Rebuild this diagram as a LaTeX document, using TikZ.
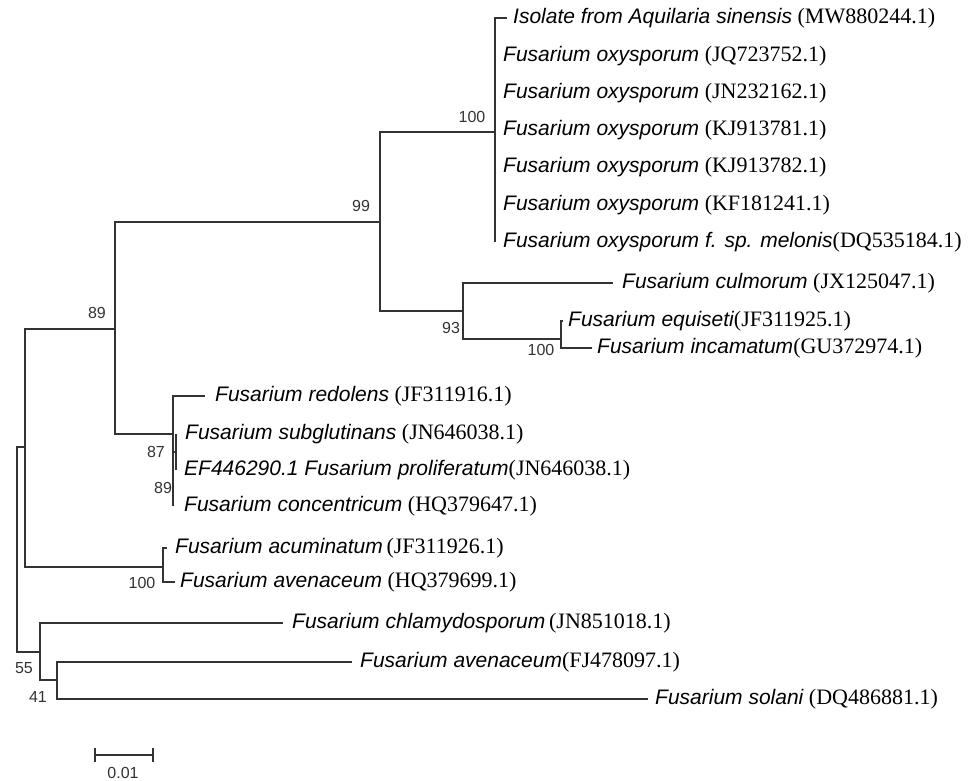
\documentclass[tikz,border=0pt]{standalone}
\usepackage{fontspec}
\setmainfont{Liberation Serif}
\setsansfont{Liberation Sans}
\usetikzlibrary{positioning}
\definecolor{branchgray}{HTML}{333333}
\newcommand{\taxon}[1]{{\fontsize{21}{26}\selectfont\sffamily\itshape #1}}

\begin{document}
\begin{tikzpicture}[x=1pt, y=-1pt,
    branch/.style={draw=branchgray, line width=1.3pt},
    taxonlabel/.style={anchor=west, inner sep=0pt, font=\fontsize{22}{26}\selectfont, text=black},
    boot/.style={inner sep=0pt, font=\sffamily\fontsize{16}{18}\selectfont, text=branchgray},
    node distance=7pt
]
\useasboundingbox (0,0) rectangle (979,780);

% internal nodes
\coordinate (root) at (17,550);
\coordinate (nA) at (25,447);
\coordinate (n89a) at (115,329);
\coordinate (n99) at (380,222);
\coordinate (n100a) at (495,132);
\coordinate (n93) at (463,311);
\coordinate (n100b) at (561,339);
\coordinate (n87) at (173,434);
\coordinate (n89b) at (176,452);
\coordinate (n100c) at (163,567);
\coordinate (n55) at (40,652);
\coordinate (n41) at (57,680);

% tips
\coordinate (tIso) at (507,18);
\coordinate (tJQ) at (495,56);
\coordinate (tJN) at (495,93);
\coordinate (tKJa) at (495,130);
\coordinate (tKJb) at (495,167);
\coordinate (tKF) at (495,205);
\coordinate (tMel) at (495,242);
\coordinate (tCul) at (613,283);
\coordinate (tEqu) at (563,321);
\coordinate (tInc) at (592,348);
\coordinate (tRed) at (205,396);
\coordinate (tSub) at (176,434);
\coordinate (tPro) at (176,470);
\coordinate (tCon) at (173,506);
\coordinate (tAcu) at (167,548);
\coordinate (tAveHQ) at (175,582);
\coordinate (tChl) at (283,623);
\coordinate (tAveFJ) at (352,662);
\coordinate (tSol) at (648,699);

% branches
\draw[branch] (root) |- (nA);
\draw[branch] (root) |- (n55);
\draw[branch] (nA) |- (n89a);
\draw[branch] (nA) |- (n100c);
\draw[branch] (n89a) |- (n99);
\draw[branch] (n89a) |- (n87);
\draw[branch] (n99) |- (n100a);
\draw[branch] (n99) |- (n93);
\draw[branch] (n100a) |- (tIso);
\draw[branch] (n100a) |- (tMel);
\draw[branch] (n93) |- (tCul);
\draw[branch] (n93) |- (n100b);
\draw[branch] (n100b) |- (tEqu);
\draw[branch] (n100b) |- (tInc);
\draw[branch] (n87) |- (tRed);
\draw[branch] (n87) |- (tCon);
\draw[branch] (n87) |- (n89b);
\draw[branch] (n89b) |- (tSub);
\draw[branch] (n89b) |- (tPro);
\draw[branch] (n100c) |- (tAcu);
\draw[branch] (n100c) |- (tAveHQ);
\draw[branch] (n55) |- (tChl);
\draw[branch] (n55) |- (n41);
\draw[branch] (n41) |- (tAveFJ);
\draw[branch] (n41) |- (tSol);

% taxa
\node[taxonlabel, right=6pt of tIso] (lIso) {\taxon{Isolate from Aquilaria sinensis} (MW880244.1)};
\node[taxonlabel, right=8pt of tJQ] (lJQ) {\taxon{Fusarium oxysporum} (JQ723752.1)};
\node[taxonlabel, right=8pt of tJN] (lJN) {\taxon{Fusarium oxysporum} (JN232162.1)};
\node[taxonlabel, right=8pt of tKJa] (lKJa) {\taxon{Fusarium oxysporum} (KJ913781.1)};
\node[taxonlabel, right=8pt of tKJb] (lKJb) {\taxon{Fusarium oxysporum} (KJ913782.1)};
\node[taxonlabel, right=8pt of tKF] (lKF) {\taxon{Fusarium oxysporum} (KF181241.1)};
\node[taxonlabel, right=8pt of tMel] (lMel) {\taxon{Fusarium oxysporum f. sp. melonis}(DQ535184.1)};
\node[taxonlabel, right=9pt of tCul] (lCul) {\taxon{Fusarium culmorum} (JX125047.1)};
\node[taxonlabel, right=5pt of tEqu] (lEqu) {\taxon{Fusarium equiseti}(JF311925.1)};
\node[taxonlabel, right=5pt of tInc] (lInc) {\taxon{Fusarium incamatum}(GU372974.1)};
\node[taxonlabel, right=10pt of tRed] (lRed) {\taxon{Fusarium redolens} (JF311916.1)};
\node[taxonlabel, right=9pt of tSub] (lSub) {\taxon{Fusarium subglutinans} (JN646038.1)};
\node[taxonlabel, right=8pt of tPro] (lPro) {\taxon{EF446290.1 Fusarium proliferatum}(JN646038.1)};
\node[taxonlabel, right=11pt of tCon] (lCon) {\taxon{Fusarium concentricum} (HQ379647.1)};
\node[taxonlabel, right=8pt of tAcu] (lAcu) {\taxon{Fusarium acuminatum}\,(JF311926.1)};
\node[taxonlabel, right=5pt of tAveHQ] (lAveHQ) {\taxon{Fusarium avenaceum} (HQ379699.1)};
\node[taxonlabel, right=9pt of tChl] (lChl) {\taxon{Fusarium chlamydosporum}\,(JN851018.1)};
\node[taxonlabel, right=8pt of tAveFJ] (lAveFJ) {\taxon{Fusarium avenaceum}(FJ478097.1)};
\node[taxonlabel, right=7pt of tSol] (lSol) {\taxon{Fusarium solani} (DQ486881.1)};

% bootstrap values
\node[boot] (b100a) at (472,117) {100};
\node[boot] (b99) at (361,206) {99};
\node[boot] (b93) at (451,328) {93};
\node[boot] (b100b) at (541,350) {100};
\node[boot] (b89a) at (97,313) {89};
\node[boot] (b87) at (156,452) {87};
\node[boot] (b89b) at (163,488) {89};
\node[boot] (b100c) at (142,583) {100};
\node[boot] (b55) at (24,668) {55};
\node[boot] (b41) at (38,697) {41};

% scale bar
\coordinate (sbL) at (95,755);
\coordinate (sbR) at (153,755);
\draw[branch] (sbL) -- (sbR);
\draw[branch] (sbL) ++(0,-7) -- ++(0,14);
\draw[branch] (sbR) ++(0,-7) -- ++(0,14);
\node[boot] (sbtext) at (123,773) {0.01};

\end{tikzpicture}
\end{document}
